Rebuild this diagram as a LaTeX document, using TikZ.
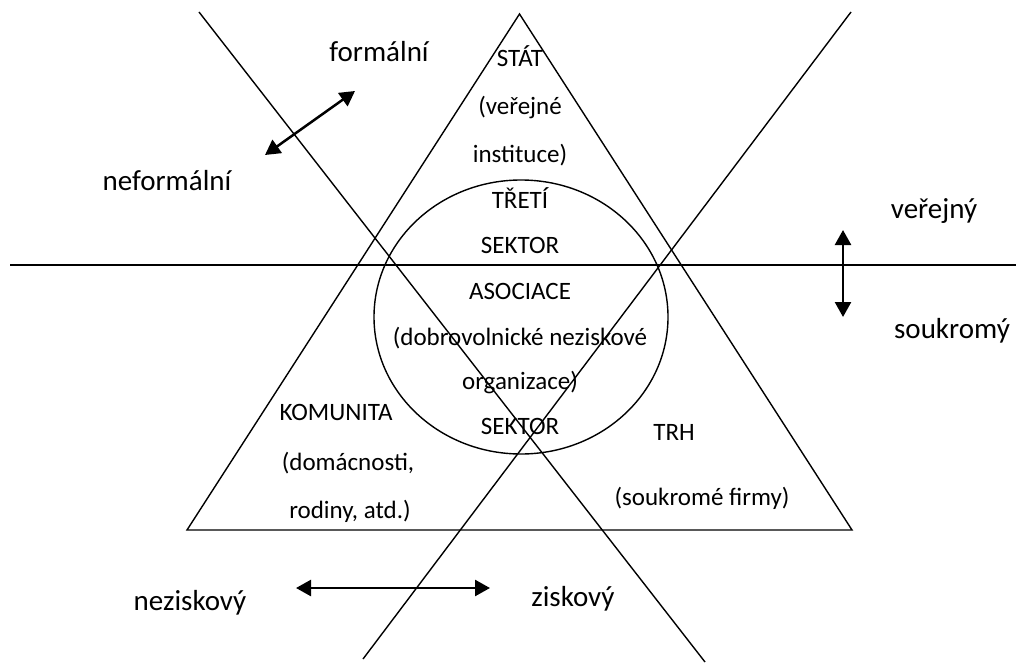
\documentclass[tikz,border=0pt]{standalone}
\usepackage{fontspec}
\setmainfont{Carlito}
\usetikzlibrary{arrows.meta}
\begin{document}
\begin{tikzpicture}[x=1pt,y=-1pt,
  thinline/.style={line width=1.4pt},
  dblarrow/.style={line width=2.5pt,{Triangle[length=15pt,width=16pt]}-{Triangle[length=15pt,width=16pt]}},
  big/.style={font=\fontsize{29}{35}\selectfont, anchor=base, inner sep=0pt},
  small/.style={font=\fontsize{25}{30}\selectfont, anchor=base, inner sep=0pt}]
\useasboundingbox (0,0) rectangle (1016,663);
% triangle
\coordinate (apex) at (519.5,14);
\coordinate (bl) at (187,530);
\coordinate (br) at (852,530);
\draw[thinline] (apex) -- (bl) -- (br) -- cycle;
% horizontal line
\coordinate (h1) at (10,265);
\coordinate (h2) at (1016,265);
\draw[thinline] (h1) -- (h2);
% diagonals
\coordinate (d1a) at (199,12);
\coordinate (d1b) at (705,662);
\coordinate (d2a) at (851,12);
\coordinate (d2b) at (363,659);
\draw[thinline] (d1a) -- (d1b);
\draw[thinline] (d2a) -- (d2b);
% circle
\coordinate (cc) at (521,317);
\draw[thinline] (cc) ellipse [x radius=147pt, y radius=137pt];
% arrows
\coordinate (fa) at (265,155);
\coordinate (fb) at (355,91);
\coordinate (va) at (843,230);
\coordinate (vb) at (843,317);
\coordinate (na) at (296,588);
\coordinate (nb) at (490,588);
\draw[dblarrow] (fa) -- (fb);
\draw[dblarrow] (va) -- (vb);
\draw[dblarrow] (na) -- (nb);
% outer labels
\node[big] (formal) at (379,62) {formální};
\node[big] (neformal) at (167,190) {neformální};
\node[big] (verejny) at (934,218) {veřejný};
\node[big] (soukromy) at (952,338) {soukromý};
\node[big] (neziskovy) at (190,610) {neziskový};
\node[big] (ziskovy) at (573,606) {ziskový};
% inner labels
\node[small] (stat) at (520,67) {STÁT};
\node[small] (stat2) at (520,115) {(veřejné};
\node[small] (stat3) at (520,163) {instituce)};
\node[small] (treti) at (520,208) {TŘETÍ};
\node[small] (sektor1) at (520,253) {SEKTOR};
\node[small] (asoc) at (520,299) {ASOCIACE};
\node[small] (asoc2) at (520,345) {(dobrovolnické neziskové};
\node[small] (asoc3) at (520,389) {organizace)};
\node[small] (sektor2) at (520,434) {SEKTOR};
\node[small] (kom) at (336,420) {KOMUNITA};
\node[small] (kom2) at (348,470) {(domácnosti,};
\node[small] (kom3) at (350,518) {rodiny, atd.)};
\node[small] (trh) at (674,440) {TRH};
\node[small] (trh2) at (702,505) {(soukromé firmy)};
\end{tikzpicture}
\end{document}
